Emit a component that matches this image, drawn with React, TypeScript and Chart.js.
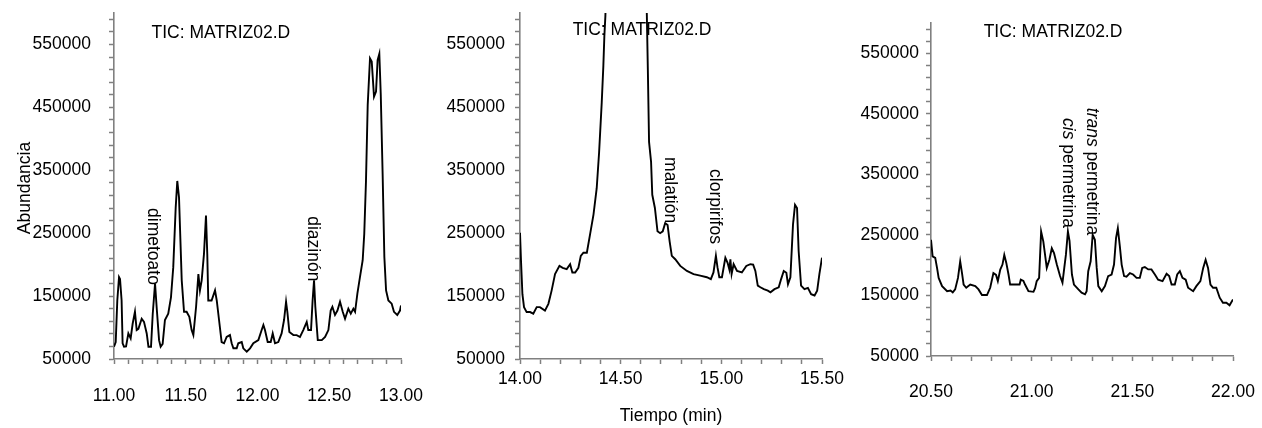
import React, { useEffect, useRef } from 'react';
import { Chart, registerables } from 'chart.js';
Chart.register(...registerables);

const FONT = '"Liberation Sans", Arial, Helvetica, sans-serif';
const FS = 17.5;
const AXIS = '#808080';

// ---------- Panel 1 (11.00 - 13.00 min) ----------
const p1Time = [
  11.000, 11.012, 11.023, 11.035, 11.042, 11.053, 11.060, 11.070, 11.084, 11.100,
  11.116, 11.130, 11.146, 11.158, 11.170, 11.193, 11.209, 11.228, 11.240, 11.258,
  11.270, 11.286, 11.297, 11.314, 11.325, 11.339, 11.355, 11.378, 11.397, 11.413,
  11.430, 11.441, 11.453, 11.472, 11.488, 11.506, 11.525, 11.541, 11.553, 11.572,
  11.588, 11.599, 11.611, 11.627, 11.641, 11.650, 11.657, 11.680, 11.704, 11.716,
  11.732, 11.750, 11.767, 11.785, 11.808, 11.820, 11.832, 11.855, 11.866, 11.890,
  11.901, 11.925, 11.948, 11.971, 12.006, 12.029, 12.041, 12.052, 12.071, 12.092,
  12.106, 12.122, 12.145, 12.168, 12.185, 12.199, 12.208, 12.222, 12.250, 12.273,
  12.296, 12.319, 12.343, 12.354, 12.373, 12.384, 12.394, 12.403, 12.420, 12.448,
  12.471, 12.494, 12.510, 12.522, 12.540, 12.557, 12.575, 12.594, 12.610, 12.633,
  12.650, 12.668, 12.680, 12.696, 12.714, 12.733, 12.744, 12.756, 12.768, 12.784,
  12.796, 12.812, 12.826, 12.837, 12.849, 12.859, 12.872, 12.884, 12.896, 12.912,
  12.935, 12.951, 12.974, 12.993, 13.000,
];
const p1Abund = [
  69500, 77000, 143000, 180000, 177000, 143000, 75000, 69500, 70000, 90600,
  82700, 106000, 125000, 96000, 98000, 114000, 109000, 90600, 69500, 69500,
  122000, 170000, 133000, 80000, 69500, 74000, 112000, 122000, 148000, 196000,
  291000, 333000, 307000, 175000, 125000, 125000, 117000, 96000, 88000, 133000,
  185000, 159000, 175000, 217000, 278000, 217000, 143000, 143000, 159000, 143000,
  112000, 77000, 75000, 85000, 88000, 75000, 67000, 67000, 75000, 77000,
  67000, 61600, 67000, 75000, 80000, 96000, 104000, 96000, 77000, 77000,
  90600, 75000, 77000, 90600, 112000, 141000, 125000, 93000, 88000, 88000,
  85000, 96000, 109000, 96000, 96000, 143000, 175000, 133000, 80000, 80000,
  85000, 96000, 127000, 133000, 120000, 127000, 141000, 125000, 114000, 130000,
  122000, 130000, 125000, 154000, 180000, 207000, 249000, 333000, 454000, 528000,
  523000, 467000, 475000, 525000, 535000, 470000, 344000, 212000, 159000, 143000,
  138000, 125000, 120000, 127000, 135000,
];

// ---------- Panel 2 (14.00 - 15.50 min) ----------
const p2Time = [
  14.000, 14.005, 14.012, 14.020, 14.033, 14.050, 14.066, 14.083, 14.099, 14.124,
  14.141, 14.157, 14.174, 14.196, 14.212, 14.232, 14.249, 14.260, 14.274, 14.290,
  14.302, 14.315, 14.332, 14.348, 14.365, 14.381, 14.393, 14.406, 14.414, 14.419,
  14.424, 14.440, 14.470, 14.530, 14.590, 14.620, 14.630, 14.635, 14.641, 14.651,
  14.657, 14.670, 14.683, 14.696, 14.709, 14.721, 14.733, 14.743, 14.754, 14.771,
  14.796, 14.829, 14.862, 14.895, 14.928, 14.948, 14.961, 14.973, 14.981, 14.990,
  15.003, 15.020, 15.031, 15.040, 15.045, 15.051, 15.061, 15.078, 15.102, 15.124,
  15.144, 15.158, 15.169, 15.181, 15.194, 15.211, 15.231, 15.244, 15.264, 15.285,
  15.297, 15.310, 15.323, 15.331, 15.343, 15.356, 15.366, 15.376, 15.384, 15.396,
  15.413, 15.430, 15.446, 15.463, 15.476, 15.487, 15.500,
];
const p2Abund = [
  250600, 206000, 153000, 132500, 124600, 124600, 122000, 132500, 132500, 127000,
  137700, 158700, 185000, 198000, 195000, 193000, 200700, 187600, 187600, 195000,
  214000, 219000, 219000, 248000, 279500, 321500, 379000, 458000, 516000, 563000,
  594600, 760000, 980000, 1050000, 950000, 720000, 597000, 510000, 395000, 363500,
  311000, 290000, 253000, 250000, 253000, 266000, 263000, 237500, 214000, 208600,
  198000, 190000, 185000, 182500, 180000, 177000, 187600, 214000, 195500, 180000,
  180000, 211000, 203000, 192000, 208600, 185000, 200700, 190000, 187600, 198000,
  200700, 200000, 190000, 166600, 164000, 161000, 158700, 156000, 161000, 164000,
  177000, 190000, 187000, 169000, 180000, 264000, 295000, 290000, 221700, 166600,
  161000, 163000, 153000, 151000, 158700, 185000, 211000,
];

// ---------- Panel 3 (20.50 - 22.00 min) ----------
const p3Time = [
  20.500, 20.508, 20.521, 20.530, 20.538, 20.555, 20.580, 20.597, 20.608, 20.620,
  20.634, 20.645, 20.654, 20.662, 20.675, 20.695, 20.720, 20.736, 20.753, 20.778,
  20.794, 20.810, 20.823, 20.832, 20.844, 20.855, 20.864, 20.874, 20.885, 20.893,
  20.918, 20.940, 20.946, 20.959, 20.967, 20.984, 21.009, 21.017, 21.025, 21.037,
  21.047, 21.058, 21.075, 21.088, 21.100, 21.111, 21.125, 21.141, 21.153, 21.162,
  21.170, 21.180, 21.188, 21.200, 21.210, 21.232, 21.248, 21.265, 21.273, 21.281,
  21.293, 21.303, 21.314, 21.323, 21.331, 21.348, 21.364, 21.380, 21.397, 21.409,
  21.419, 21.428, 21.438, 21.447, 21.459, 21.471, 21.488, 21.504, 21.521, 21.537,
  21.549, 21.562, 21.579, 21.595, 21.612, 21.628, 21.650, 21.670, 21.683, 21.695,
  21.711, 21.723, 21.736, 21.749, 21.765, 21.777, 21.802, 21.818, 21.838, 21.852,
  21.864, 21.876, 21.888, 21.901, 21.917, 21.934, 21.950, 21.967, 21.983, 22.000,
];
const p3Abund = [
  242000, 214600, 212000, 195500, 179000, 165400, 157000, 158000, 155000, 160000,
  179000, 206400, 187000, 168000, 162700, 168000, 165400, 160000, 150700, 150700,
  162700, 187000, 184000, 173700, 192800, 201000, 217000, 203700, 184600, 168000,
  168000, 168000, 176000, 174000, 168000, 157000, 156000, 162000, 173700, 179000,
  255700, 239000, 195500, 209000, 228000, 220000, 201000, 182000, 171000, 195500,
  217000, 255700, 240000, 184600, 168000, 160000, 154500, 151800, 157000, 190000,
  206400, 250200, 242000, 195500, 165400, 157000, 165400, 182000, 184600, 201000,
  244700, 261000, 231000, 201000, 182000, 181000, 187000, 184600, 179000, 179000,
  195500, 197000, 193000, 193000, 184600, 176000, 173700, 185700, 182000, 168000,
  168000, 184600, 190000, 179000, 176000, 162700, 157000, 165400, 173700, 195500,
  209000, 195500, 168000, 162700, 162700, 146300, 138000, 138000, 133700, 143500,
];

// ---------- Axis ticks ----------
const yMin = 50000;
const yMax = 600000;
const yMinorStep = 20000;
const yTickLabels = [50000, 150000, 250000, 350000, 450000, 550000];
const xMinorStep = 0.1;
const p1XLabels = [11.0, 11.5, 12.0, 12.5, 13.0];
const p2XLabels = [14.0, 14.5, 15.0, 15.5];
const p3XLabels = [20.5, 21.0, 21.5, 22.0];

const titleText = 'TIC: MATRIZ02.D';

type Part = { s: string; italic?: boolean };
type Ann = { parts: Part[]; t: number; v: number };

const p1Annotations: Ann[] = [
  { parts: [{ s: 'dimetoato' }], t: 11.268, v: 290000 },
  { parts: [{ s: 'diazinón' }], t: 12.387, v: 277000 },
];
const p2Annotations: Ann[] = [
  { parts: [{ s: 'malatión' }], t: 14.745, v: 371000 },
  { parts: [{ s: 'clorpirifos' }], t: 14.969, v: 352000 },
];
const p3Annotations: Ann[] = [
  { parts: [{ s: 'cis', italic: true }, { s: ' permetrina' }], t: 21.18, v: 443000 },
  { parts: [{ s: 'trans', italic: true }, { s: ' permetrina' }], t: 21.30, v: 460000 },
];

interface PanelCfg {
  time: number[];
  abund: number[];
  xLabels: number[];
  annotations: Ann[];
  canvasLeft: number;
  canvasWidth: number;
  yAxisWidth: number;
  padRight: number;
  padTop: number;
  bottom: number;
  yPad: number;
  xPad: number;
  titleT: number;
  titleY: number;
  extras: { text: string; x: number; y: number; rot: number }[];
}

const panels: PanelCfg[] = [
  {
    time: p1Time, abund: p1Abund, xLabels: p1XLabels, annotations: p1Annotations,
    canvasLeft: 0, canvasWidth: 440, yAxisWidth: 114, padRight: 39, padTop: 13, bottom: 359,
    yPad: 18, xPad: 22, titleT: 11.745, titleY: 33,
    extras: [{ text: 'Abundancia', x: 25, y: 188, rot: -Math.PI / 2 }],
  },
  {
    time: p2Time, abund: p2Abund, xLabels: p2XLabels, annotations: p2Annotations,
    canvasLeft: 430, canvasWidth: 420, yAxisWidth: 90, padRight: 28, padTop: 13, bottom: 359,
    yPad: 10, xPad: 5, titleT: 14.606, titleY: 30,
    extras: [{ text: 'Tiempo (min)', x: 241, y: 416, rot: 0 }],
  },
  {
    time: p3Time, abund: p3Abund, xLabels: p3XLabels, annotations: p3Annotations,
    canvasLeft: 850, canvasWidth: 412, yAxisWidth: 81, padRight: 29, padTop: 23, bottom: 356,
    yPad: 7, xPad: 21, titleT: 21.106, titleY: 32,
    extras: [],
  },
];

function Panel({ cfg }: { cfg: PanelCfg }) {
  const ref = useRef<HTMLCanvasElement>(null);
  useEffect(() => {
    const xMin = cfg.xLabels[0];
    const xMax = cfg.xLabels[cfg.xLabels.length - 1];
    const nX = Math.round((xMax - xMin) / xMinorStep);
    const xTicks: number[] = [];
    for (let i = 0; i <= nX; i++) xTicks.push(Math.round((xMin + i * xMinorStep) * 1000) / 1000);
    const yTicks: number[] = [];
    for (let v = yMin; v < yMax; v += yMinorStep) yTicks.push(v);

    const textPlugin = {
      id: 'texts',
      afterDraw(chart: any) {
        const ctx = chart.ctx as CanvasRenderingContext2D;
        const xs = chart.scales.x;
        const ys = chart.scales.y;
        ctx.save();
        ctx.fillStyle = '#000';
        ctx.font = `${FS}px ${FONT}`;
        ctx.textAlign = 'center';
        ctx.textBaseline = 'middle';
        ctx.fillText(titleText, xs.getPixelForValue(cfg.titleT), cfg.titleY);
        for (const e of cfg.extras) {
          ctx.save();
          ctx.translate(e.x, e.y);
          ctx.rotate(e.rot);
          ctx.textAlign = 'center';
          ctx.textBaseline = 'middle';
          ctx.font = `${FS}px ${FONT}`;
          ctx.fillText(e.text, 0, 0);
          ctx.restore();
        }
        for (const a of cfg.annotations) {
          ctx.save();
          ctx.translate(xs.getPixelForValue(a.t), ys.getPixelForValue(a.v));
          ctx.rotate(Math.PI / 2);
          ctx.textAlign = 'left';
          ctx.textBaseline = 'middle';
          let off = 0;
          for (const p of a.parts) {
            ctx.font = `${p.italic ? 'italic ' : ''}${FS}px ${FONT}`;
            ctx.fillText(p.s, off, 0);
            off += ctx.measureText(p.s).width;
          }
          ctx.restore();
        }
        ctx.restore();
      },
    };

    const chart = new Chart(ref.current as HTMLCanvasElement, {
      type: 'line',
      data: {
        datasets: [
          {
            data: cfg.time.map((t, i) => ({ x: t, y: cfg.abund[i] })),
            borderColor: '#000',
            borderWidth: 1.9,
            pointRadius: 0,
            tension: 0,
            fill: false,
          },
        ],
      },
      options: {
        animation: false,
        responsive: false,
        maintainAspectRatio: false,
        layout: { padding: { left: 0, right: cfg.padRight, top: cfg.padTop, bottom: 0 } },
        plugins: { legend: { display: false }, tooltip: { enabled: false }, title: { display: false } },
        scales: {
          x: {
            type: 'linear',
            min: xMin,
            max: xMax,
            border: { color: AXIS, width: 1.6 },
            grid: { drawOnChartArea: false, drawTicks: true, tickLength: 5, color: AXIS, tickColor: AXIS, tickWidth: 1.5 },
            ticks: {
              autoSkip: false,
              maxRotation: 0,
              minRotation: 0,
              padding: cfg.xPad,
              color: '#000',
              font: { family: FONT, size: FS },
              callback: (v: any) => {
                const n = Number(v);
                return cfg.xLabels.some((l) => Math.abs(l - n) < 1e-6) ? n.toFixed(2) : '';
              },
            },
            afterBuildTicks: (s: any) => {
              s.ticks = xTicks.map((v) => ({ value: v }));
            },
            afterFit: (s: any) => {
              s.height = 428 - cfg.bottom;
              s.paddingLeft = 0;
              s.paddingRight = 0;
            },
          },
          y: {
            type: 'linear',
            min: yMin,
            max: yMax,
            border: { color: AXIS, width: 1.6 },
            grid: { drawOnChartArea: false, drawTicks: true, tickLength: 5, color: AXIS, tickColor: AXIS, tickWidth: 1.5 },
            ticks: {
              autoSkip: false,
              padding: cfg.yPad,
              color: '#000',
              font: { family: FONT, size: FS },
              callback: (v: any) => {
                const n = Number(v);
                return yTickLabels.includes(n) ? String(n) : '';
              },
            },
            afterBuildTicks: (s: any) => {
              s.ticks = yTicks.map((v) => ({ value: v }));
            },
            afterFit: (s: any) => {
              s.width = cfg.yAxisWidth;
              s.paddingTop = 0;
              s.paddingBottom = 0;
            },
          },
        },
      } as any,
      plugins: [textPlugin],
    });
    return () => chart.destroy();
  }, [cfg]);
  return (
    <canvas
      ref={ref}
      width={cfg.canvasWidth}
      height={428}
      style={{ position: 'absolute', left: cfg.canvasLeft, top: 0, width: cfg.canvasWidth, height: 428 }}
    />
  );
}

export default function App() {
  return (
    <div style={{ position: 'absolute', left: 0, top: 0, width: 1262, height: 428, background: '#fff' }}>
      {panels.map((p, i) => (
        <Panel key={i} cfg={p} />
      ))}
    </div>
  );
}
